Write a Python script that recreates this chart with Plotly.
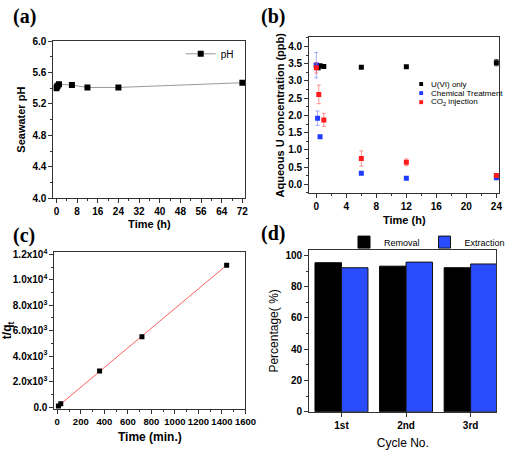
import plotly.graph_objects as go

W, H = 521, 453

# ---------------- data ----------------
# (a) seawater pH vs time
ph_time = [0, 0.17, 0.5, 1, 6, 12, 24, 72]
ph_value = [5.40, 5.42, 5.43, 5.45, 5.44, 5.41, 5.41, 5.47]

# (b) aqueous U concentration
u_only_time = [0, 0.25, 0.5, 1, 6, 12, 24]
u_only_conc = [3.45, 3.38, 3.44, 3.42, 3.40, 3.41, 3.53]
u_only_err = [0, 0, 0, 0, 0, 0, 0.09]

chem_time = [0, 0.17, 0.5, 6, 12, 24]
chem_conc = [3.46, 1.92, 1.38, 0.32, 0.18, 0.19]
chem_err = [0.37, 0.21, 0, 0, 0, 0.03]

co2_time = [0, 0.33, 1, 6, 12, 24]
co2_conc = [3.38, 2.61, 1.87, 0.75, 0.64, 0.26]
co2_err = [0.15, 0.27, 0.19, 0.22, 0.10, 0.05]

# (c) pseudo-second-order kinetics
kin_time = [10, 30, 360, 720, 1440]
kin_tq = [80, 250, 2830, 5530, 11150]
fit_time = [0, 1440]
fit_tq = [10, 11150]
c_tickvals = [0, 2000, 4000, 6000, 8000, 10000, 12000]
c_ticktext = ["0.0", "2.0x10<sup>3</sup>", "4.0x10<sup>3</sup>", "6.0x10<sup>3</sup>",
              "8.0x10<sup>3</sup>", "1.0x10<sup>4</sup>", "1.2x10<sup>4</sup>"]

# (d) cycling
cycles = ["1st", "2nd", "3rd"]
removal = [95.3, 93.1, 92.1]
extraction = [92.1, 95.7, 94.5]

# ---------------- helpers ----------------
FONT = "Liberation Sans"
def px_x(a, b):
    return [a / W, b / W]
def px_y(top, bottom):
    return [1 - bottom / H, 1 - top / H]

tickfont = dict(family=FONT, size=10, color="black", weight="bold")
titlefont = dict(family=FONT, size=11, color="black", weight="bold")

def axis(domain, anchor, rng=None, dtick=None, minor_dtick=None, title="", standoff=4,
         tfont=None, tkfont=None, **kw):
    d = dict(domain=domain, anchor=anchor, showline=True, mirror=True, linecolor="#333333",
             linewidth=1, ticks="outside", ticklen=4, tickwidth=1, tickcolor="#333333",
             showgrid=False, zeroline=False, tickfont=tkfont or tickfont,
             title=dict(text=title, font=tfont or titlefont, standoff=standoff))
    if rng is not None:
        d["range"] = rng
    if dtick is not None:
        d["dtick"] = dtick
    if minor_dtick is not None:
        d["minor"] = dict(dtick=minor_dtick, ticks="outside", ticklen=2, tickcolor="#333333", showgrid=False)
    d.update(kw)
    return d

fig = go.Figure()

# (a)
fig.add_trace(go.Scatter(x=ph_time, y=ph_value, mode="lines+markers", name="pH",
                         line=dict(color="#9a9a9a", width=1),
                         marker=dict(symbol="square", size=6, color="black"),
                         xaxis="x", yaxis="y", legend="legend"))

# (b)
fig.add_trace(go.Scatter(x=u_only_time, y=u_only_conc, mode="markers", name="U(VI) only",
                         marker=dict(symbol="square", size=5, color="black"),
                         error_y=dict(type="data", array=u_only_err, color="#444444", thickness=1, width=2),
                         xaxis="x2", yaxis="y2", showlegend=False))
fig.add_trace(go.Scatter(x=chem_time, y=chem_conc, mode="markers", name="Chemical Treatment",
                         marker=dict(symbol="square", size=5, color="#1f3cff"),
                         error_y=dict(type="data", array=chem_err, color="rgba(90,110,255,0.55)", thickness=1, width=2),
                         xaxis="x2", yaxis="y2", showlegend=False))
fig.add_trace(go.Scatter(x=co2_time, y=co2_conc, mode="markers", name="CO<sub>2</sub> injection",
                         marker=dict(symbol="square", size=5, color="#ff1a1a"),
                         error_y=dict(type="data", array=co2_err, color="rgba(255,80,80,0.6)", thickness=1, width=2),
                         xaxis="x2", yaxis="y2", showlegend=False))

# (c)
fig.add_trace(go.Scatter(x=fit_time, y=fit_tq, mode="lines", line=dict(color="#ff6060", width=1),
                         xaxis="x3", yaxis="y3", showlegend=False))
fig.add_trace(go.Scatter(x=kin_time, y=kin_tq, mode="markers",
                         marker=dict(symbol="square", size=5, color="black"),
                         xaxis="x3", yaxis="y3", showlegend=False))

# (d)
fig.add_trace(go.Bar(x=cycles, y=removal, name="Removal", marker=dict(color="black", line=dict(color="black", width=1)),
                     xaxis="x4", yaxis="y4", legend="legend3"))
fig.add_trace(go.Bar(x=cycles, y=extraction, name="Extraction", marker=dict(color="#2a4cff", line=dict(color="#111111", width=1)),
                     xaxis="x4", yaxis="y4", legend="legend3"))

regfont = dict(family=FONT, size=12, color="black")
layout = dict(
    width=W, height=H, margin=dict(l=0, r=0, t=0, b=0),
    paper_bgcolor="white", plot_bgcolor="white",
    bargap=0.18, bargroupgap=0, barmode="group",
    xaxis=axis(px_x(48, 247), "y", [-1.2, 73.2], 8, 4, "Time (h)", standoff=4),
    yaxis=axis(px_y(37, 198), "x", [4.0, 6.0], 0.4, 0.2, "Seawater pH", standoff=4, tickformat=".1f"),
    xaxis2=axis(px_x(313, 510), "y2", [-0.95, 24.4], 4, 2, "Time (h)", standoff=4),
    yaxis2=axis(px_y(33, 193), "x2", [-0.26, 4.27], 0.5, 0.25, "Aqueous U concentration (ppb)", standoff=1, tickformat=".1f"),
    xaxis3=axis(px_x(49, 247), "y3", [-25, 1600], 200, 100, "Time (min.)", standoff=6, tickangle=0,
                tkfont=dict(family=FONT, size=9.5, color="black", weight="bold"),
                tfont=dict(family=FONT, size=12, color="black", weight="bold")),
    yaxis3=axis(px_y(253, 414), "x3", [-150, 12200], None, 1000, "t/q<sub>t</sub>", standoff=4,
                tickmode="array", tickvals=c_tickvals, ticktext=c_ticktext,
                tfont=dict(family=FONT, size=12, color="black", weight="bold")),
    xaxis4=axis(px_x(313, 507), "y4", [-0.5, 2.4], None, None, "Cycle No.", standoff=8, tfont=regfont),
    yaxis4=axis(px_y(251, 417), "x4", [0, 103.5], 20, 10, "Percentage( %)", standoff=4, tfont=regfont),
    legend=dict(x=240 / W, y=1 - 50 / H, xanchor="right", yanchor="middle", bgcolor="rgba(0,0,0,0)",
                font=dict(family=FONT, size=10, color="black"), itemwidth=30),
    legend3=dict(x=1.0, y=1 - 243 / H, xanchor="right", yanchor="middle", orientation="h",
                 bgcolor="rgba(0,0,0,0)", font=dict(family=FONT, size=9, color="black"), itemwidth=30,
                 tracegroupgap=0),
)
fig.update_layout(**layout)

# manual compact legend for (b)
leg_b = [("U(VI) only", "black"), ("Chemical Treatment", "#1f3cff"), ("CO<sub>2</sub> injection", "#ff1a1a")]
annotations = []
shapes = []
for i, (txt, col) in enumerate(leg_b):
    yc = 81 + i * 9.3
    shapes.append(dict(type="rect", xref="paper", yref="paper",
                       x0=427 / W, x1=431 / W, y0=1 - (yc + 2) / H, y1=1 - (yc - 2) / H,
                       fillcolor=col, line=dict(width=0)))
    annotations.append(dict(text=txt, xref="paper", yref="paper", x=437 / W, y=1 - yc / H,
                            xanchor="left", yanchor="middle", showarrow=False,
                            font=dict(family=FONT, size=8, color="black")))

# panel labels
for lab, xx, yy in [("(a)", 4, 12), ("(b)", 261, 12), ("(c)", 4, 236), ("(d)", 261, 234)]:
    annotations.append(dict(text=lab, xref="paper", yref="paper", x=xx / W, y=1 - yy / H,
                            xanchor="left", yanchor="middle", showarrow=False,
                            font=dict(family="Liberation Serif", size=20, color="black", weight="bold")))

fig.update_layout(annotations=annotations, shapes=shapes)
fig.write_html("out.html", config={"displayModeBar": False},
               post_script="document.body.style.margin='0px';document.body.style.padding='0px';")
